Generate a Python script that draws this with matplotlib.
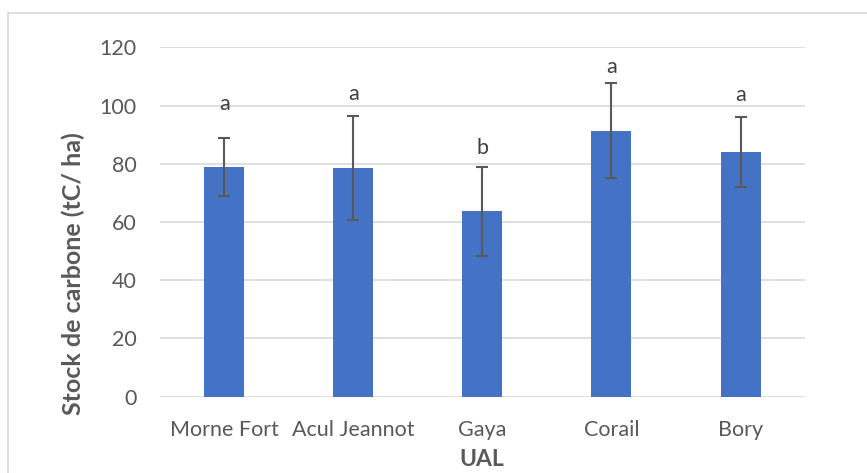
import matplotlib.pyplot as plt
from matplotlib.patches import Rectangle

# carbon stock per site, with standard deviation and significance group
sites = ['Morne Fort', 'Acul Jeannot', 'Gaya', 'Corail', 'Bory']
stock = [78.8, 78.6, 63.6, 91.3, 84.0]
sd = [9.9, 17.8, 15.4, 16.3, 11.9]
groups = ['a', 'a', 'b', 'a', 'a']
group_y = [98.6, 102.0, 83.4, 111.2, 101.6]

plt.rcParams['font.family'] = ['Lato', 'DejaVu Sans']
text_col = '#595959'

fig = plt.figure(figsize=(8.67, 4.73), dpi=100)
ax = fig.add_axes([0.1845, 0.1615, 0.744, 0.7385])

x = range(len(sites))
ax.bar(x, stock, width=0.31, color='#4472C4', zorder=3)
ax.errorbar(x, stock, yerr=sd, fmt='none', ecolor='#595959',
            elinewidth=1.5, capsize=4.5, capthick=1.5, zorder=4)

for i, g in enumerate(groups):
    ax.text(i, group_y[i], g, ha='center', va='baseline', fontsize=15.5,
            color='#404040')

ax.set_xlim(-0.5, len(sites) - 0.5)
ax.set_ylim(0, 120)
ax.set_yticks(range(0, 121, 20))
ax.set_xticks(list(x))
ax.set_xticklabels(sites)
ax.tick_params(axis='both', length=0, labelsize=15.5, labelcolor=text_col)
ax.tick_params(axis='x', pad=17)
ax.tick_params(axis='y', pad=17)
ax.grid(axis='y', color='#D9D9D9', linewidth=1.2, zorder=0)
for s in ax.spines.values():
    s.set_visible(False)

fig.text(73 / 867, 1 - 274 / 473, 'Stock de carbone (tC/ ha)', rotation=90,
         ha='center', va='center', fontsize=18, fontweight='bold', color=text_col)
fig.text(482 / 867, 1 - 459 / 473, 'UAL', ha='center', va='center',
         fontsize=16.5, fontweight='bold', color=text_col)

# chart frame
fig.patches.append(Rectangle((8 / 867, -0.1), 1.2, 1.1 - 13 / 473,
                             transform=fig.transFigure, fill=False,
                             edgecolor='#D9D9D9', linewidth=1.2))

fig.savefig('out.png', dpi=100)
